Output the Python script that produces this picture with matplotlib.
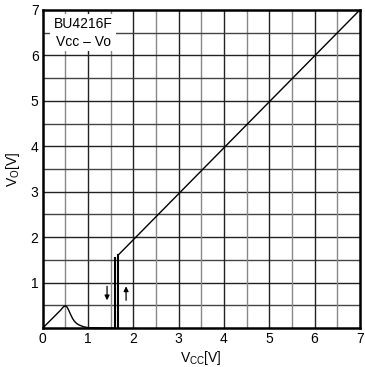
import matplotlib
matplotlib.use("Agg")
import matplotlib.pyplot as plt
from matplotlib.patches import Rectangle

plt.rcParams['font.family'] = ['Liberation Sans', 'DejaVu Sans']
plt.rcParams['mathtext.fontset'] = 'custom'
plt.rcParams['mathtext.rm'] = 'Liberation Sans'

# Data
bump_x = [0.0, 0.1, 0.2, 0.3, 0.4, 0.46, 0.5, 0.54, 0.58, 0.62, 0.66, 0.7, 0.75, 0.8, 0.9, 1.0, 1.6]
bump_y = [0.0, 0.1, 0.2, 0.3, 0.4, 0.47, 0.49, 0.46, 0.38, 0.29, 0.21, 0.15, 0.1, 0.07, 0.03, 0.01, 0.0]
jump_down_x = [1.6, 1.6]
jump_down_y = [0.0, 1.55]
jump_up_x = [1.66, 1.66]
jump_up_y = [0.0, 1.6]
line_x = [1.66, 7.0]
line_y = [1.6, 7.0]
xticks = [0, 1, 2, 3, 4, 5, 6, 7]
yticks = [1, 2, 3, 4, 5, 6, 7]

fig = plt.figure(figsize=(3.65, 3.67), dpi=100)
ax = fig.add_axes([0.117, 0.106, 0.869, 0.867])
ax.set_xlim(0, 7)
ax.set_ylim(0, 7)

# grid
for v in [i * 0.5 for i in range(1, 14)]:
    major = abs(v - round(v)) < 1e-9
    ax.axvline(v, color='#222222' if major else '#888888', lw=1.0, zorder=1)
    ax.axhline(v, color='#222222' if major else '#444444', lw=1.0, zorder=1)

ax.plot(bump_x, bump_y, color='black', lw=1.0, zorder=3)
ax.plot(jump_down_x, jump_down_y, color='black', lw=1.5, zorder=3)
ax.plot(jump_up_x, jump_up_y, color='black', lw=1.5, zorder=3)
ax.plot(line_x, line_y, color='black', lw=1.0, zorder=3)

ax.annotate('', xy=(1.42, 0.55), xytext=(1.42, 0.98),
            arrowprops=dict(arrowstyle='-|>', color='black', lw=0.9,
                            mutation_scale=7), zorder=4)
ax.annotate('', xy=(1.84, 0.98), xytext=(1.84, 0.55),
            arrowprops=dict(arrowstyle='-|>', color='black', lw=0.9,
                            mutation_scale=7), zorder=4)

# label box
ax.add_patch(Rectangle((0.17, 6.1), 1.45, 0.8, facecolor='white',
                       edgecolor='none', zorder=5))
ax.text(0.9, 6.68, 'BU4216F', ha='center', va='center', fontsize=10, zorder=6)
ax.text(0.9, 6.3, 'Vcc – Vo', ha='center', va='center', fontsize=10, zorder=6)

ax.set_xticks(xticks)
ax.set_yticks(yticks)
ax.tick_params(length=0, labelsize=10, pad=3)
for s in ax.spines.values():
    s.set_linewidth(1.8)
    s.set_zorder(7)

ax.set_xlabel('V$_{\\mathregular{CC}}$[V]', fontsize=10, labelpad=2)
ax.set_ylabel('V$_{\\mathregular{O}}$[V]', fontsize=10, labelpad=6)

fig.savefig('out.png', dpi=100)
